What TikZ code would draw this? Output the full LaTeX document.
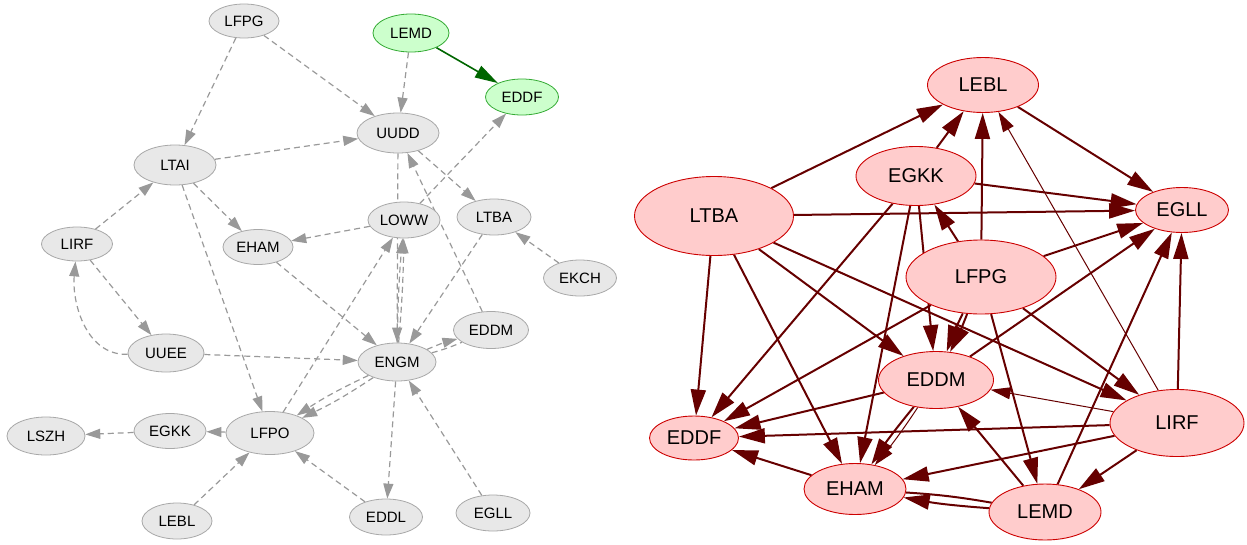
\documentclass[tikz,border=0pt]{standalone}
\usepackage{fontspec}
\setmainfont{Liberation Sans}
\usetikzlibrary{shapes.geometric,arrows.meta,backgrounds}
\definecolor{grayfill}{HTML}{E8E8E8}
\definecolor{grayline}{HTML}{A8A8A8}
\definecolor{grayedge}{HTML}{999999}
\definecolor{greenfill}{HTML}{CCFFCC}
\definecolor{greenline}{HTML}{33AA33}
\definecolor{greenedge}{HTML}{006600}
\definecolor{redfill}{HTML}{FFCCCC}
\definecolor{redline}{HTML}{CC0000}
\definecolor{rededge}{HTML}{660000}
\begin{document}
\begin{tikzpicture}[x=1pt,y=-1pt]
            \tikzstyle{gray node}=[ellipse,draw=grayline,fill=grayfill,line width=0.8pt,inner sep=0,font=\fontsize{15}{18}\selectfont]
            \tikzstyle{green node}=[gray node,draw=greenline,fill=greenfill]
            \tikzstyle{red node}=[ellipse,draw=redline,fill=redfill,line width=0.9pt,inner sep=0,font=\fontsize{20}{24}\selectfont]
            \tikzstyle{gray edge}=[draw=grayedge,line width=1.2pt,dash pattern=on 6pt off 4pt,-{Triangle[length=15pt,width=10pt]}]
            \tikzstyle{green edge}=[draw=greenedge,line width=1.6pt,-{Triangle[length=23pt,width=13pt]}]
            \tikzstyle{red edge}=[draw=rededge,line width=2pt,-{Triangle[length=26pt,width=15pt]}]
            \tikzstyle{thin red edge}=[draw=rededge,line width=1pt,-{Triangle[length=20pt,width=12pt]}]

            \useasboundingbox (0,0) rectangle (1247,544);

            \node(aLFPG)[gray node,minimum width=70,minimum height=34] at (244,21){LFPG};
            \node(aLEMD)[green node,minimum width=76,minimum height=38] at (411,33){LEMD};
            \node(aEDDF)[green node,minimum width=73,minimum height=36] at (522,97){EDDF};
            \node(aUUDD)[gray node,minimum width=82,minimum height=40] at (398,133){UUDD};
            \node(aLTAI)[gray node,minimum width=82,minimum height=40] at (175,165){LTAI};
            \node(aLIRF)[gray node,minimum width=71,minimum height=34] at (77,244){LIRF};
            \node(aEHAM)[gray node,minimum width=70,minimum height=35] at (258,247){EHAM};
            \node(aLOWW)[gray node,minimum width=72,minimum height=36] at (404,220){LOWW};
            \node(aLTBA)[gray node,minimum width=74,minimum height=36] at (494,217){LTBA};
            \node(aEKCH)[gray node,minimum width=73,minimum height=36] at (580,278){EKCH};
            \node(aEDDM)[gray node,minimum width=75,minimum height=37] at (491,330){EDDM};
            \node(aUUEE)[gray node,minimum width=76,minimum height=38] at (166,353){UUEE};
            \node(aENGM)[gray node,minimum width=78,minimum height=38] at (397,362){ENGM};
            \node(aLSZH)[gray node,minimum width=78,minimum height=38] at (46,436){LSZH};
            \node(aEGKK)[gray node,minimum width=72,minimum height=35] at (170,431){EGKK};
            \node(aLFPO)[gray node,minimum width=88,minimum height=43] at (270,433){LFPO};
            \node(aLEBL)[gray node,minimum width=70,minimum height=36] at (177,521){LEBL};
            \node(aEDDL)[gray node,minimum width=73,minimum height=36] at (386,517){EDDL};
            \node(aEGLL)[gray node,minimum width=74,minimum height=36] at (493,513){EGLL};

            \node(bLEBL)[red node,minimum width=111,minimum height=55] at (983,85){LEBL};
            \node(bEGKK)[red node,minimum width=120,minimum height=59] at (916,176){EGKK};
            \node(bLTBA)[red node,minimum width=159,minimum height=79] at (714,216){LTBA};
            \node(bEGLL)[red node,minimum width=93,minimum height=45] at (1182,210){EGLL};
            \node(bLFPG)[red node,minimum width=150,minimum height=74] at (981,277){LFPG};
            \node(bEDDM)[red node,minimum width=115,minimum height=57] at (936,380){EDDM};
            \node(bLIRF)[red node,minimum width=134,minimum height=67] at (1177,423){LIRF};
            \node(bEDDF)[red node,minimum width=89,minimum height=44] at (694,438){EDDF};
            \node(bEHAM)[red node,minimum width=102,minimum height=51] at (855,489){EHAM};
            \node(bLEMD)[red node,minimum width=112,minimum height=56] at (1045,512){LEMD};

            \begin{scope}[on background layer]
            \draw[gray edge](aLFPG)--(aLTAI);
            \draw[gray edge](aLFPG)--(aUUDD);
            \draw[gray edge](aLEMD)--(aUUDD);
            \draw[green edge](aLEMD)--(aEDDF);
            \draw[gray edge](aLTAI)--(aUUDD);
            \draw[gray edge](aLTAI)--(aEHAM);
            \draw[gray edge](aLTAI)--(aLFPO);
            \draw[gray edge](aLIRF)--(aLTAI);
            \draw[gray edge](aLIRF)--(aUUEE);
            \draw[gray edge](aUUEE) to[out=182,in=265] (aLIRF);
            \draw[gray edge](aUUDD)--(aLTBA);
            \draw[gray edge](aUUDD)--(aENGM);
            \draw[gray edge](aLOWW)--(aEHAM);
            \draw[gray edge](aLOWW)--(aEDDF);
            \draw[gray edge](aEDDM)--(aUUDD);
            \draw[gray edge](aLTBA)--(aENGM);
            \draw[gray edge](aEKCH)--(aLTBA);
            \draw[gray edge](aEHAM)--(aENGM);
            \draw[gray edge](aUUEE)--(aENGM);
            \draw[gray edge](aENGM) to[bend left=4] (aEDDM);
            \draw[gray edge,-](aENGM) to[bend right=4] (aEDDM);
            \draw[gray edge](aENGM) to[bend left=4] (aLFPO);
            \draw[gray edge](aENGM) to[bend right=4] (aLFPO);
            \draw[gray edge](aENGM) to[bend left=2] (aLOWW);
            \draw[gray edge](aENGM) to[bend right=2] (aLOWW);
            \draw[gray edge](aLFPO)--(aLOWW);
            \draw[gray edge](aENGM)--(aEDDL);
            \draw[gray edge](aEGLL)--(aENGM);
            \draw[gray edge](aEDDL)--(aLFPO);
            \draw[gray edge](aLEBL)--(aLFPO);
            \draw[gray edge](aLFPO)--(aEGKK);
            \draw[gray edge](aEGKK)--(aLSZH);

            \draw[red edge](bLTBA)--(bLEBL);
            \draw[red edge](bLTBA)--(bEGLL);
            \draw[red edge](bLTBA)--(bEDDF);
            \draw[red edge](bLTBA)--(bEHAM);
            \draw[red edge](bLTBA)--(bEDDM);
            \draw[red edge](bLTBA)--(bLIRF);
            \draw[red edge](bEGKK)--(bLEBL);
            \draw[red edge](bEGKK)--(bEGLL);
            \draw[red edge](bEGKK)--(bEDDF);
            \draw[red edge](bEGKK)--(bEHAM);
            \draw[red edge](bEGKK)--(bEDDM);
            \draw[red edge](bLFPG)--(bEGKK);
            \draw[red edge](bLFPG)--(bLEBL);
            \draw[red edge](bLFPG)--(bEGLL);
            \draw[red edge](bLFPG) to[bend left=3] (bEDDM);
            \draw[red edge](bLFPG) to[bend right=3] (bEDDM);
            \draw[red edge](bLFPG)--(bEDDF);
            \draw[red edge](bLFPG)--(bLEMD);
            \draw[red edge](bLFPG)--(bLIRF);
            \draw[red edge](bLEBL)--(bEGLL);
            \draw[red edge](bEDDM)--(bEGLL);
            \draw[red edge](bEDDM)--(bEDDF);
            \draw[red edge](bEDDM) to[bend right=3] (bEHAM);
            \draw[thin red edge](bEDDM) to[bend left=3] (bEHAM);
            \draw[thin red edge](bLIRF)--(bEDDM);
            \draw[red edge](bLIRF)--(bEDDF);
            \draw[red edge](bLIRF)--(bEHAM);
            \draw[red edge](bLIRF)--(bLEMD);
            \draw[red edge](bLIRF)--(bEGLL);
            \draw[thin red edge](bLIRF)--(bLEBL);
            \draw[red edge](bLEMD)--(bEGLL);
            \draw[red edge](bLEMD)--(bEDDM);
            \draw[red edge](bLEMD) to[bend left=3] (bEHAM);
            \draw[red edge,-](bEHAM) to[bend left=3] (bLEMD);
            \draw[red edge](bEHAM)--(bEDDF);
            \end{scope}
        \end{tikzpicture}
\end{document}
